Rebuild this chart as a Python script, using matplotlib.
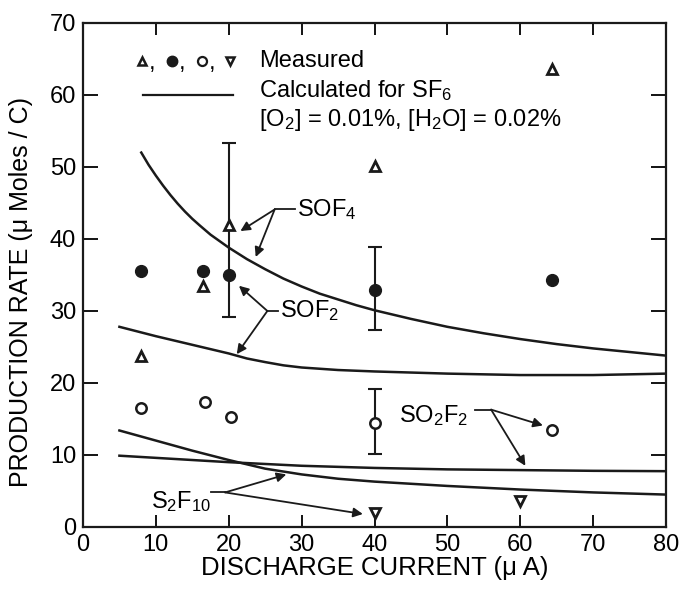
import numpy as np
import matplotlib
matplotlib.use('Agg')
import matplotlib.pyplot as plt

plt.rcParams['font.family'] = ['Liberation Sans', 'DejaVu Sans']
plt.rcParams['mathtext.fontset'] = 'custom'
plt.rcParams['mathtext.rm'] = 'Liberation Sans'
plt.rcParams['mathtext.it'] = 'Liberation Sans'

# calculated curves for SF6
SOF4_X = [8, 9, 10, 11, 12, 13, 14, 15, 16, 17.5, 20, 22.5, 25, 27.5, 30, 32.5, 35, 37.5, 40,
          45, 50, 55, 60, 65, 70, 75, 80]
SOF4_Y = [52.0, 50.3, 48.8, 47.4, 46.1, 44.9, 43.8, 42.8, 41.9, 40.6, 38.8, 37.2, 35.8, 34.5,
          33.4, 32.4, 31.6, 30.8, 30.1, 28.9, 27.8, 26.9, 26.1, 25.4, 24.8, 24.3, 23.8]
SOF2_X = [5, 10, 15, 20, 22.5, 25, 27.5, 30, 35, 40, 50, 60, 70, 80]
SOF2_Y = [27.8, 26.5, 25.3, 24.1, 23.4, 22.9, 22.45, 22.15, 21.8, 21.6, 21.3, 21.1, 21.1, 21.3]
S2F10_X = [5, 10, 15, 20, 25, 30, 35, 40, 50, 60, 70, 80]
S2F10_Y = [13.4, 12.0, 10.6, 9.3, 8.1, 7.3, 6.7, 6.3, 5.7, 5.2, 4.8, 4.5]
SO2F2_X = [5, 10, 20, 30, 40, 50, 60, 70, 80]
SO2F2_Y = [9.9, 9.6, 9.0, 8.5, 8.2, 8.0, 7.9, 7.8, 7.75]

# measured points
SOF4_MX = [8, 16.5, 20, 40, 64.3]
SOF4_MY = [23.7, 33.4, 41.9, 50.1, 63.6]
SOF2_MX = [8, 16.5, 20, 40, 64.3]
SOF2_MY = [35.6, 35.6, 35.0, 32.9, 34.3]
SO2F2_MX = [8, 16.8, 20.3, 40, 64.3]
SO2F2_MY = [16.5, 17.3, 15.3, 14.4, 13.5]
S2F10_MX = [40, 60]
S2F10_MY = [2.0, 3.6]

# error bars (x, low, high)
ERR_X = [20, 40, 40]
ERR_LO = [29.2, 27.4, 10.1]
ERR_HI = [53.3, 38.9, 19.2]

fig = plt.figure(figsize=(6.79, 5.89), dpi=100)
ax = fig.add_axes([0.1222, 0.1053, 0.8587, 0.8557])

lw = 1.8
ax.plot(SOF4_X, SOF4_Y, color='#1a1a1a', lw=lw)
ax.plot(SOF2_X, SOF2_Y, color='#1a1a1a', lw=lw)
ax.plot(S2F10_X, S2F10_Y, color='#1a1a1a', lw=lw)
ax.plot(SO2F2_X, SO2F2_Y, color='#1a1a1a', lw=lw)

for x, lo, hi in zip(ERR_X, ERR_LO, ERR_HI):
  ax.errorbar([x], [(lo + hi) / 2], yerr=[[(hi - lo) / 2], [(hi - lo) / 2]], fmt='none',
              ecolor='#1a1a1a', elinewidth=1.5, capsize=5, capthick=1.5)

ax.plot(SOF4_MX, SOF4_MY, '^', ms=7, mfc='white', mec='#1a1a1a', mew=2, ls='none')
ax.plot(SOF2_MX, SOF2_MY, 'o', ms=8.5, mfc='#1a1a1a', mec='#1a1a1a', ls='none')
ax.plot(SO2F2_MX, SO2F2_MY, 'o', ms=7.5, mfc='white', mec='#1a1a1a', mew=1.8, ls='none')
ax.plot(S2F10_MX, S2F10_MY, 'v', ms=7, mfc='white', mec='#1a1a1a', mew=2, ls='none')

# legend drawn by hand like the original
ax.plot([8.1], [64.7], '^', ms=6, mfc='white', mec='#1a1a1a', mew=1.8)
ax.plot([12.2], [64.7], 'o', ms=7.5, mfc='#1a1a1a', mec='#1a1a1a')
ax.plot([16.3], [64.7], 'o', ms=6.5, mfc='white', mec='#1a1a1a', mew=1.6)
ax.plot([20.2], [64.7], 'v', ms=6, mfc='white', mec='#1a1a1a', mew=1.8)
for cx in [9.0, 13.1, 17.2]:
  ax.text(cx, 64.5, ',', fontsize=17, va='center', ha='left')
ax.text(24.2, 64.7, 'Measured', fontsize=17, va='center', ha='left')
ax.plot([8.2, 20.6], [60, 60], color='#1a1a1a', lw=1.6)
ax.text(24.2, 60.6, 'Calculated for SF$_6$', fontsize=17, va='center', ha='left')
ax.text(24.2, 56.5, '[O$_2$] = 0.01%, [H$_2$O] = 0.02%', fontsize=17, va='center', ha='left')

# labels with branching arrows: text pos, branch point, arrow tips
LABELS = ['SOF$_4$', 'SOF$_2$', 'SO$_2$F$_2$', 'S$_2$F$_{10}$']
TEXT_POS = [(29.3, 44.1), (27.0, 30.0), (43.3, 15.5), (9.4, 3.6)]
BRANCH = [(26.3, 44.1), (25.3, 30.0), (56.0, 16.3), (19.5, 4.8)]
TIPS = [[(21.6, 41.1), (23.7, 37.5)],
        [(21.4, 33.5), (21.1, 24.0)],
        [(63.1, 14.1), (60.7, 8.5)],
        [(27.9, 7.3), (38.4, 1.8)]]
LINE_END = [29.1, 26.8, 53.8, 17.6]

for lab, tp, br, tips, le in zip(LABELS, TEXT_POS, BRANCH, TIPS, LINE_END):
  ax.text(tp[0], tp[1], lab, fontsize=17, va='center', ha='left')
  ax.plot([min(br[0], le), max(br[0], le)], [br[1], br[1]], color='#1a1a1a', lw=1.3)
  for tip in tips:
    ax.annotate('', xy=tip, xytext=br,
                arrowprops=dict(arrowstyle='-|>', color='#1a1a1a', lw=1.3,
                                mutation_scale=14, shrinkA=0, shrinkB=0))

ax.set_xlim(0, 80)
ax.set_ylim(0, 70)
ax.set_xticks(np.arange(0, 81, 10))
ax.set_yticks(np.arange(0, 71, 10))
ax.tick_params(axis='both', direction='in', top=True, right=True, width=1.3,
               labelsize=17, pad=5)
ax.tick_params(axis='y', length=11)
ax.tick_params(axis='x', length=8.5)
for s in ax.spines.values():
  s.set_linewidth(1.6)
  s.set_color('#1a1a1a')

ax.set_xlabel('DISCHARGE CURRENT (\u03bc A)', fontsize=18.5)
ax.xaxis.set_label_coords(0.5, -0.057)
ax.set_ylabel('PRODUCTION RATE (\u03bc Moles / C)', fontsize=18)
ax.yaxis.set_label_coords(-0.085, 0.466)

fig.savefig('out.png', dpi=100)
